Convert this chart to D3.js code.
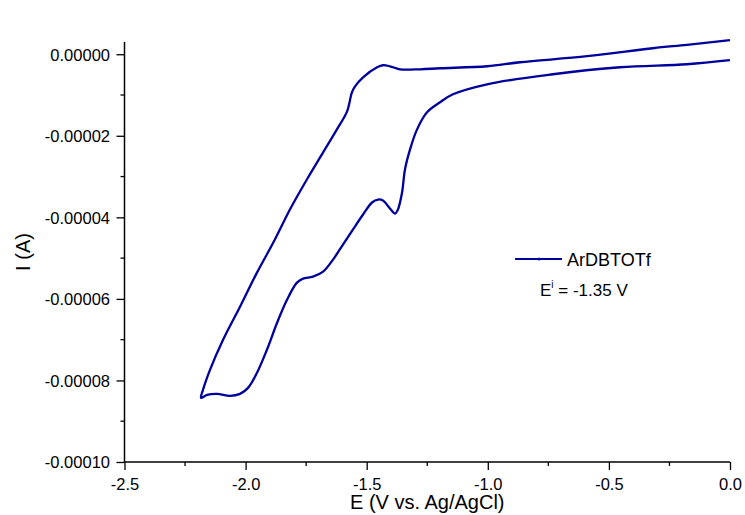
<!DOCTYPE html>
<html>
<head>
<meta charset="utf-8">
<script src="https://cdn.jsdelivr.net/npm/d3@7/dist/d3.min.js"></script>
<style>
  html, body { margin: 0; padding: 0; background: #fff; }
  svg { display: block; font-family: Arial, "Liberation Sans", sans-serif; }
</style>
</head>
<body>
<svg id="chart" width="745" height="515"></svg>
<script>
// ---- data (E in V vs. Ag/AgCl, I in microamps) ----
const forwardE = [0.000, -0.178, -0.318, -0.590, -0.867, -1.003, -1.197, -1.280, -1.363, -1.404, -1.433, -1.457, -1.515, -1.548, -1.561, -1.581, -1.623, -1.680, -1.747, -1.817, -1.879, -1.953, -2.023, -2.093, -2.147, -2.176, -2.184];
const forwardI = [3.44, 2.30, 1.47, -0.49, -1.97, -2.95, -3.44, -3.69, -3.69, -2.95, -2.70, -3.19, -5.65, -7.86, -9.34, -14.00, -18.43, -24.08, -30.71, -38.08, -45.45, -53.56, -61.92, -70.02, -77.40, -82.31, -84.28];
const reverseE = [-2.184, -2.159, -2.118, -2.064, -2.023, -1.990, -1.953, -1.912, -1.870, -1.829, -1.788, -1.763, -1.722, -1.680, -1.639, -1.598, -1.557, -1.515, -1.478, -1.453, -1.433, -1.404, -1.383, -1.371, -1.354, -1.342, -1.321, -1.292, -1.251, -1.197, -1.144, -1.003, -0.731, -0.454, -0.178, 0.000];
const reverseI = [-84.52, -83.54, -83.29, -83.78, -83.29, -81.82, -78.13, -72.48, -65.85, -60.20, -56.02, -55.04, -54.55, -53.32, -50.37, -46.68, -43.00, -39.31, -36.36, -35.63, -35.87, -37.84, -39.07, -38.08, -33.91, -28.26, -23.34, -18.43, -14.25, -11.79, -9.83, -7.37, -4.91, -3.19, -2.46, -1.47];
const xTicks = [-2.5, -2.0, -1.5, -1.0, -0.5, 0.0];
const xMinorTicks = [-2.25, -1.75, -1.25, -0.75, -0.25];
const yTicks = [0, -0.00002, -0.00004, -0.00006, -0.00008, -0.0001];
const yMinorTicks = [-0.00001, -0.00003, -0.00005, -0.00007, -0.00009];
const seriesName = "ArDBTOTf";
const xTitle = "E (V vs. Ag/AgCl)";
const yTitle = "I (A)";

const svg = d3.select("#chart");
const color = "#00009C";
const FONT = "Arial, 'Liberation Sans', sans-serif";

const x = d3.scaleLinear().domain([-2.5, 0]).range([124.5, 730]);
const y = d3.scaleLinear().domain([-0.0001, 0.000003]).range([462, 42]);

const pts = forwardE.map((e, i) => [e, forwardI[i] * 1e-6])
  .concat(reverseE.slice(1).map((e, i) => [e, reverseI[i + 1] * 1e-6]));

const line = d3.line().x(d => x(d[0])).y(d => y(d[1])).curve(d3.curveCatmullRom.alpha(0.5));
svg.append("path").datum(pts)
  .attr("d", line)
  .attr("fill", "none")
  .attr("stroke", color)
  .attr("stroke-width", 2.3)
  .attr("stroke-linejoin", "round");

const hyph = f => d => f(d).replace("\u2212", "-");

// axes
const xAxis = d3.axisBottom(x).tickValues(xTicks).tickFormat(hyph(d3.format(".1f"))).tickSize(8).tickPadding(8);
const gx = svg.append("g").attr("transform", `translate(0,${y(-0.0001)})`).call(xAxis);
gx.append("g").selectAll("line").data(xMinorTicks).join("line")
  .attr("x1", d => x(d)).attr("x2", d => x(d)).attr("y1", 0).attr("y2", 4).attr("stroke", "#000").attr("stroke-width", 1.3);

const yAxis = d3.axisLeft(y).tickValues(yTicks).tickFormat(hyph(d3.format(".5f"))).tickSize(8).tickPadding(6.5);
const gy = svg.append("g").attr("transform", `translate(${x(-2.5)},0)`).call(yAxis);
gy.append("g").selectAll("line").data(yMinorTicks).join("line")
  .attr("y1", d => y(d)).attr("y2", d => y(d)).attr("x1", 0).attr("x2", -4).attr("stroke", "#000").attr("stroke-width", 1.3);

[gx, gy].forEach(g => {
  g.select(".domain").remove();
  g.selectAll(".tick line").attr("stroke-width", 1.3);
  g.selectAll("text").attr("font-size", 16.5).attr("font-family", FONT).attr("fill", "#000");
});
gx.append("line").attr("x1", x(-2.5)).attr("x2", x(0)).attr("y1", 0).attr("y2", 0).attr("stroke", "#000").attr("stroke-width", 1.5);
gy.append("line").attr("x1", 0).attr("x2", 0).attr("y1", y(0.000003)).attr("y2", y(-0.0001)).attr("stroke", "#000").attr("stroke-width", 1.5);
gy.selectAll(".tick text").attr("dy", "0.35em");

// axis titles
svg.append("text").attr("x", (x(-2.5) + x(0)) / 2).attr("y", 509)
  .attr("text-anchor", "middle").attr("font-size", 20).text(xTitle);
svg.append("text").attr("transform", `translate(30,${(y(0.000003) + y(-0.0001)) / 2}) rotate(-90)`)
  .attr("text-anchor", "middle").attr("font-size", 20).text(yTitle);

// legend
const lg = svg.append("g");
lg.append("line").attr("x1", 515).attr("x2", 562).attr("y1", 259).attr("y2", 259)
  .attr("stroke", color).attr("stroke-width", 2);
lg.append("circle").attr("cx", 539).attr("cy", 259).attr("r", 1.5).attr("fill", color);
lg.append("text").attr("x", 567).attr("y", 266).attr("font-size", 18).text(seriesName);
const t2 = lg.append("text").attr("x", 540).attr("y", 296).attr("font-size", 17);
t2.append("tspan").text("E");
t2.append("tspan").attr("font-size", 10).attr("dy", -8).text("i");
t2.append("tspan").attr("dy", 8).text(" = -1.35 V");
</script>
</body>
</html>
